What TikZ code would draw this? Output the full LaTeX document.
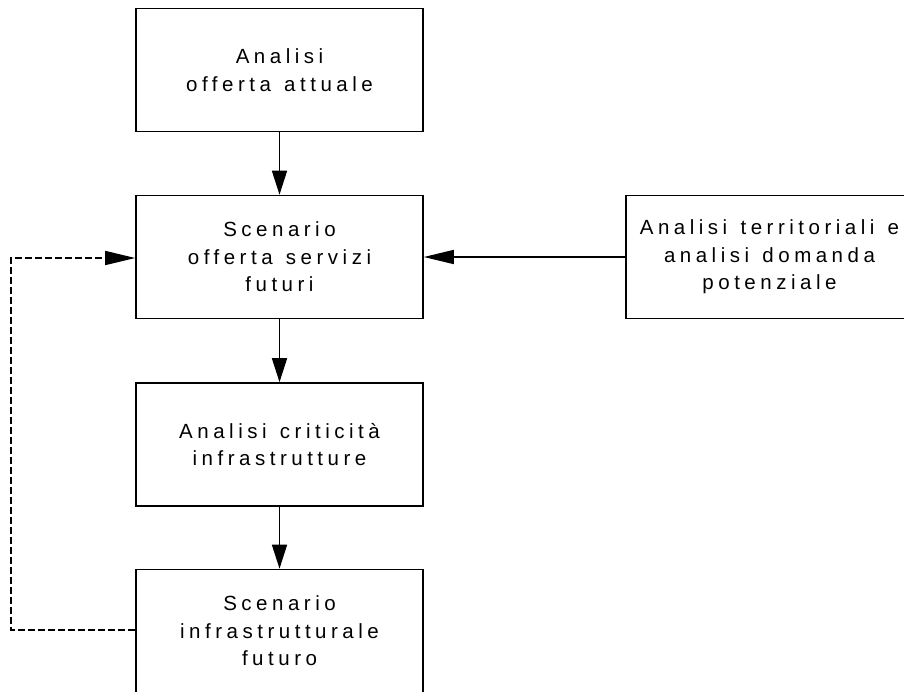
\documentclass[tikz,border=0pt]{standalone}
\usepackage{fontspec}
\setmainfont[LetterSpace=22,WordSpace=1.3]{Liberation Sans}
\usetikzlibrary{arrows.meta}
\begin{document}
\begin{tikzpicture}[x=1pt,y=-1pt,
  box/.style={draw,line width=1.6pt,minimum width=287pt,minimum height=123pt,inner sep=0pt,
    align=center,font=\fontsize{20.5}{27.5}\selectfont},
  vflow/.style={line width=1.6pt,-{Triangle[length=24pt,width=15pt]}},
  hflow/.style={line width=1.6pt,-{Triangle[length=30pt,width=14pt]}},
  loopline/.style={line width=1.3pt,dash pattern=on 7pt off 3pt}]
\useasboundingbox (0,0) rectangle (904,691);
\begin{scope}
\clip (0,0) rectangle (904,691);
\node[box] (a) at (279.5,70) {Analisi\\offerta attuale};
\node[box] (b) at (279.5,257) {Scenario\\offerta servizi\\futuri};
\node[box] (c) at (279.5,444.5) {Analisi criticità\\infrastrutture};
\node[box] (d) at (279.5,631) {Scenario\\infrastrutturale\\futuro};
\node[box] (e) at (769.5,257) {Analisi territoriali e\\analisi domanda\\potenziale};
\end{scope}
\draw[vflow] (a) -- (b);
\draw[vflow] (b) -- (c);
\draw[vflow] (c) -- (d);
\draw[hflow] (e.west) -- (b.east);
\coordinate (l1) at (11,630);
\coordinate (l2) at (11,258);
\draw[loopline] (d.west |- 0,630) -- (l1) -- (l2) -- (b.west |- l2);
\draw[hflow] (105,258) -- (b.west |- l2);
\end{tikzpicture}
\end{document}
